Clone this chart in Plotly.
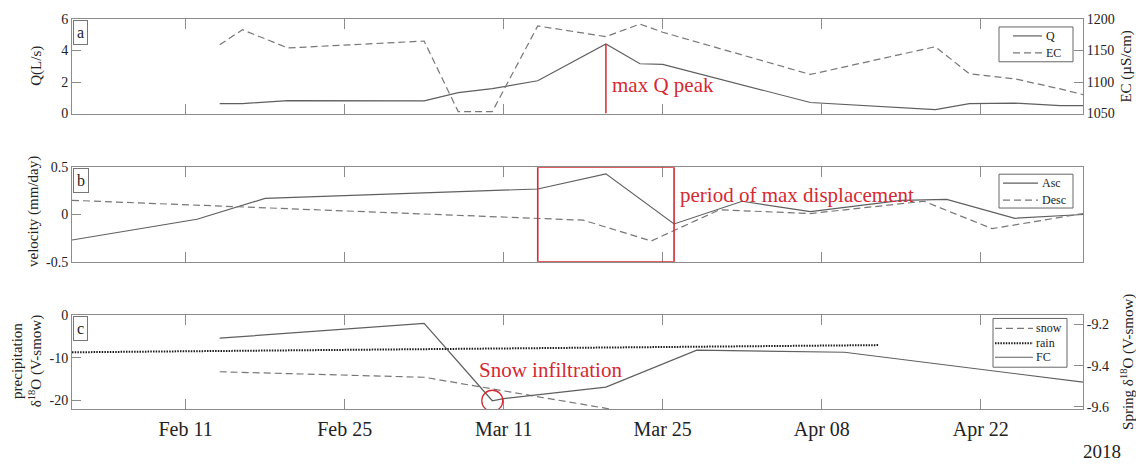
import plotly.graph_objects as go

# ---- (a) spring discharge and electrical conductivity ----
q_dates = ["2018-02-14", "2018-02-16", "2018-02-20", "2018-03-04", "2018-03-07",
           "2018-03-10", "2018-03-14", "2018-03-20", "2018-03-23", "2018-03-25",
           "2018-04-07", "2018-04-18", "2018-04-21", "2018-04-25", "2018-04-29",
           "2018-05-01"]
q_vals = [0.63, 0.63, 0.82, 0.80, 1.33, 1.58, 2.08, 4.42, 3.16, 3.12,
          0.70, 0.25, 0.63, 0.66, 0.50, 0.50]
ec_vals = [1159, 1183, 1154, 1165, 1053, 1053, 1189, 1172, 1192, 1179,
           1112, 1156, 1113, 1105, 1089, 1080]

# ---- (b) ground displacement velocity ----
asc_dates = ["2018-02-01", "2018-02-12", "2018-02-18", "2018-03-14", "2018-03-20",
             "2018-03-26", "2018-04-01", "2018-04-07", "2018-04-15", "2018-04-19",
             "2018-04-25", "2018-05-01"]
asc_vals = [-0.27, -0.05, 0.17, 0.27, 0.43, -0.10, 0.14, 0.03, 0.15, 0.16, -0.04, 0.00]
desc_dates = ["2018-02-01", "2018-03-18", "2018-03-24", "2018-03-30", "2018-04-07",
              "2018-04-17", "2018-04-23", "2018-05-01"]
desc_vals = [0.15, -0.06, -0.28, 0.05, 0.01, 0.14, -0.15, 0.01]

# ---- (c) oxygen isotopes ----
snow_dates = ["2018-02-14", "2018-03-04", "2018-03-21"]
snow_vals = [-13.3, -14.6, -22.4]
rain_dates = ["2018-02-01", "2018-04-13"]
rain_vals = [-8.7, -7.0]
fc_dates = ["2018-02-14", "2018-03-04", "2018-03-10", "2018-03-11", "2018-03-20",
            "2018-03-28", "2018-04-10", "2018-05-01"]
fc_vals = [-9.267, -9.195, -9.57, -9.56, -9.504, -9.325, -9.335, -9.48]

tick_dates = ["2018-02-11", "2018-02-25", "2018-03-11", "2018-03-25", "2018-04-08", "2018-04-22"]
x_range = ["2018-02-01", "2018-05-01"]

FONT = "Liberation Serif"
RED = "#d42a33"
LINE = "#5f5f5f"
LINE2 = "#777777"
FRAME = "#8c8c8c"

W, H = 1136, 466
ML, MR, MT, MB = 72, 53, 17, 57
PW, PH = W - ML - MR, H - MT - MB


def px(xp):
    """Horizontal page pixel -> paper fraction."""
    return (xp - ML) / PW


def py(yp):
    """Vertical page pixel (from the top) -> paper fraction."""
    return (H - MB - yp) / PH


style_q = dict(color=LINE, width=1.2)
style_ec = dict(color=LINE2, width=1.2, dash="7px,4px")
style_asc = dict(color=LINE, width=1.2)
style_desc = dict(color=LINE2, width=1.2, dash="7px,4px")
style_snow = dict(color=LINE2, width=1.2, dash="7px,4px")
style_rain = dict(color="#1a1a1a", width=2, dash="1.5px,1.2px")
style_fc = dict(color=LINE, width=1.2)

fig = go.Figure()

# panel a
fig.add_trace(go.Scatter(x=q_dates, y=q_vals, name="Q", mode="lines", line=style_q,
                         xaxis="x", yaxis="y"))
fig.add_trace(go.Scatter(x=q_dates, y=ec_vals, name="EC", mode="lines", line=style_ec,
                         xaxis="x", yaxis="y2"))
# panel b
fig.add_trace(go.Scatter(x=asc_dates, y=asc_vals, name="Asc", mode="lines", line=style_asc,
                         xaxis="x2", yaxis="y3"))
fig.add_trace(go.Scatter(x=desc_dates, y=desc_vals, name="Desc", mode="lines",
                         line=style_desc, xaxis="x2", yaxis="y3"))
# panel c
fig.add_trace(go.Scatter(x=snow_dates, y=snow_vals, name="snow", mode="lines",
                         line=style_snow, xaxis="x3", yaxis="y4"))
fig.add_trace(go.Scatter(x=rain_dates, y=rain_vals, name="rain", mode="lines",
                         line=style_rain, xaxis="x3", yaxis="y4"))
fig.add_trace(go.Scatter(x=fc_dates, y=fc_vals, name="FC", mode="lines", line=style_fc,
                         xaxis="x3", yaxis="y5"))
fig.update_traces(showlegend=False)

# discharge peak marker
i_peak = q_vals.index(max(q_vals))
peak_date = q_dates[i_peak]
fig.add_shape(type="line", xref="x", yref="y", x0=peak_date, x1=peak_date,
              y0=0, y1=q_vals[i_peak], line=dict(color=RED, width=1.5))

# window of maximum displacement, bounded by the ascending-orbit samples
win0 = asc_dates[asc_vals.index(0.27)]
win1 = asc_dates[asc_vals.index(-0.10)]
fig.add_shape(type="rect", xref="x2", yref="y3", x0=win0, x1=win1, y0=-0.5, y1=0.5,
              line=dict(color=RED, width=1.6), fillcolor="rgba(0,0,0,0)")

# circle around the spring isotope minimum
i_min = fc_vals.index(min(fc_vals))
fig.add_shape(type="circle", xref="x3", yref="y5", xsizemode="pixel", ysizemode="pixel",
              xanchor=fc_dates[i_min], yanchor=fc_vals[i_min],
              x0=-10.5, x1=10.5, y0=-10.5, y1=10.5,
              line=dict(color=RED, width=1.3))

axis_common = dict(showline=True, linecolor=FRAME, linewidth=1, ticks="inside",
                   tickcolor=FRAME, showgrid=False, zeroline=False,
                   tickfont=dict(family=FONT, size=14, color="#222"))
x_common = dict(axis_common, type="date", range=x_range, tickvals=tick_dates,
                tickformat="%b %d", mirror="ticks", ticklen=10,
                tickfont=dict(family=FONT, size=20, color="#222"))

fig.update_layout(
    width=W, height=H,
    margin=dict(l=ML, r=MR, t=MT, b=MB),
    paper_bgcolor="white", plot_bgcolor="white",
    font=dict(family=FONT, color="#222"),
    showlegend=False,
    xaxis=dict(x_common, anchor="y", domain=[0, 1], showticklabels=False),
    xaxis2=dict(x_common, anchor="y3", domain=[0, 1], showticklabels=False),
    xaxis3=dict(x_common, anchor="y4", domain=[0, 1], ticklabelstandoff=2),
    yaxis=dict(axis_common, domain=[py(112), 1], range=[0, 6], tickvals=[0, 2, 4, 6],
               ticklen=9, anchor="x"),
    yaxis2=dict(axis_common, overlaying="y", side="right", range=[1050, 1200],
                tickvals=[1050, 1100, 1150, 1200], ticklen=9, anchor="x"),
    yaxis3=dict(axis_common, domain=[py(261), py(166)], range=[-0.5, 0.5],
                tickvals=[-0.5, 0, 0.5], ticktext=["-0.5", "0", "0.5"], ticklen=9,
                mirror=True, anchor="x2"),
    yaxis4=dict(axis_common, domain=[0, py(315)], range=[-22.1, 0],
                tickvals=[-20, -10, 0], ticktext=["-20", "-10", "0"], ticklen=9,
                anchor="x3"),
    yaxis5=dict(axis_common, overlaying="y4", side="right", range=[-9.61, -9.157],
                tickvals=[-9.6, -9.4, -9.2], ticktext=["-9.6", "-9.4", "-9.2"],
                ticklen=9, anchor="x3"),
)

annotations = []


def add_legend(entries, box, line_x, text_x, row_y):
    """Framed legend: box=(left, top, right, bottom) in page pixels."""
    l, t, r, b = box
    fig.add_shape(type="rect", xref="paper", yref="paper",
                  x0=px(l), x1=px(r), y0=py(b), y1=py(t),
                  line=dict(color="#666", width=1), fillcolor="white", layer="above")
    for (name, style), yy in zip(entries, row_y):
        fig.add_shape(type="line", xref="paper", yref="paper",
                      x0=px(line_x[0]), x1=px(line_x[1]), y0=py(yy), y1=py(yy),
                      line=style, layer="above")
        annotations.append(dict(text=name, xref="paper", yref="paper", x=px(text_x),
                                y=py(yy), xanchor="left", yanchor="middle",
                                showarrow=False,
                                font=dict(family=FONT, size=12, color="#222")))


add_legend([("Q", style_q), ("EC", style_ec)], (999, 25, 1073, 60),
           (1013, 1042), 1044, (34, 51))
add_legend([("Asc", style_asc), ("Desc", style_desc)], (999, 173, 1073, 207),
           (1003, 1038), 1040, (182, 199))
add_legend([("snow", style_snow), ("rain", style_rain), ("FC", style_fc)],
           (993, 318, 1067, 367), (995, 1033), 1034, (328, 343, 357))

# panel letters
for letter, ytop in (("a", 1.0), ("b", py(166)), ("c", py(315))):
    annotations.append(dict(text=letter, xref="paper", yref="paper", x=0, y=ytop,
                            xanchor="left", yanchor="top", showarrow=False,
                            font=dict(family=FONT, size=16, color="#222"),
                            bordercolor="#777", borderwidth=1, borderpad=3,
                            bgcolor="white", xshift=1, yshift=-1))

# axis titles (left side centred on the panel, right side aligned at the bottom)
title_font = dict(family=FONT, size=15, color="#222")
for text, xp, yp, yanc in (("Q(L/s)", 37, 64, "middle"),
                           ("EC (µS/cm)", 1127, 103, "bottom"),
                           ("velocity (mm/day)", 33, 211, "middle"),
                           ("precipitation<br>δ<sup>18</sup>O (V-smow)", 27, 361, "middle"),
                           ("Spring δ<sup>18</sup>O (V-smow)", 1128, 432, "bottom")):
    annotations.append(dict(text=text, xref="paper", yref="paper", x=px(xp), y=py(yp),
                            xanchor="center", yanchor=yanc, textangle=-90,
                            showarrow=False, font=title_font))

annotations.append(dict(text="2018", xref="paper", yref="paper", x=px(1102), y=py(452),
                        xanchor="center", yanchor="middle", showarrow=False,
                        font=dict(family=FONT, size=19, color="#222")))

# red call-outs
red_font = dict(family=FONT, size=21, color=RED)
annotations += [
    dict(text="max Q peak", xref="x", yref="y", x=peak_date, y=1.83,
         xanchor="left", yanchor="middle", xshift=4, showarrow=False, font=red_font),
    dict(text="period of max displacement", xref="x2", yref="y3", x=win1, y=0.21,
         xanchor="left", yanchor="middle", xshift=4, showarrow=False, font=red_font),
    dict(text="Snow infiltration", xref="x3", yref="y4", x="2018-03-15 04:00", y=-12.9,
         xanchor="center", yanchor="middle", showarrow=False, font=red_font),
]
fig.update_layout(annotations=annotations)

fig.write_html("out.html")
